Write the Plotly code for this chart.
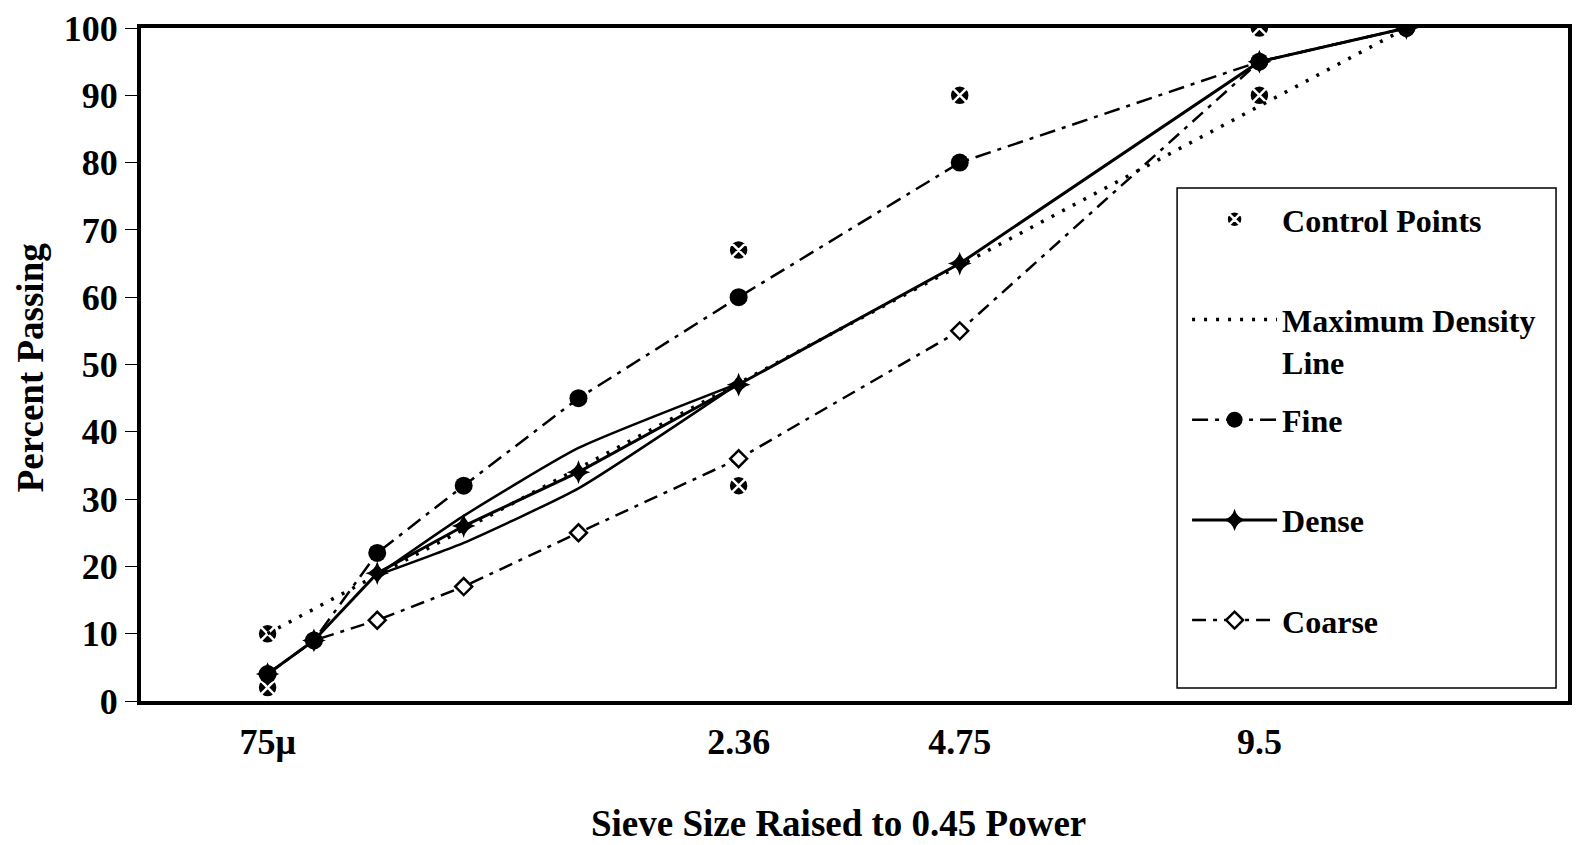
import plotly.graph_objects as go

# ---- data ----
sieve_mm = [0.075, 0.15, 0.3, 0.6, 1.18, 2.36, 4.75, 9.5, 12.5]
fine = [4, 9, 22, 32, 45, 60, 80, 95, 100]
dense = [4, 9, 19, 26, 34, 47, 65, 95, 100]
coarse = [4, 9, 12, 17, 25, 36, 55, 95, 100]
max_density = [10, 13.7, 18.7, 25.5, 34.6, 47.2, 64.7, 88.4, 100]

control_sieves = [0.075, 0.075, 2.36, 2.36, 4.75, 9.5, 9.5, 12.5]
control_vals = [2, 10, 32, 67, 90, 90, 100, 100]

rz_sieves = [0.3, 0.6, 1.18, 2.36]
rz_upper = [18.7, 27.5, 37.6, 47.2]
rz_lower = [18.7, 23.5, 31.6, 47.2]

tick_sieves = [0.075, 2.36, 4.75, 9.5]
tick_labels = ["75\u03bc", "2.36", "4.75", "9.5"]
y_ticks = [0, 10, 20, 30, 40, 50, 60, 70, 80, 90, 100]

P = 0.45
def px(vals):
    return [v ** P for v in vals]

FONT = "Liberation Serif"
fig = go.Figure()

# restricted zone
for rz in (rz_upper, rz_lower):
    fig.add_trace(go.Scatter(x=px(rz_sieves), y=rz, mode="lines",
                             line=dict(color="black", width=2.5, shape="spline", smoothing=0.5),
                             showlegend=False, hoverinfo="skip"))

fig.add_trace(go.Scatter(x=px(control_sieves), y=control_vals, mode="markers",
                         name="Control Points<br>\u00a0", legendgroup="a", legendrank=1,
                         marker=dict(symbol="circle-x", size=20, color="black",
                                     line=dict(color="white", width=2.5))))
fig.add_trace(go.Scatter(x=px(sieve_mm), y=max_density, mode="lines",
                         name="Maximum Density<br>Line", legendgroup="b", legendrank=2,
                         line=dict(color="black", width=3.5, dash="3px,9px")))
fig.add_trace(go.Scatter(x=px(sieve_mm), y=dense, mode="lines+markers",
                         name="Dense<br>\u00a0", legendgroup="d", legendrank=4,
                         line=dict(color="black", width=3),
                         marker=dict(symbol="star-diamond", size=17, color="black")))
fig.add_trace(go.Scatter(x=px(sieve_mm), y=coarse, mode="lines+markers",
                         name="Coarse<br>\u00a0", legendgroup="e", legendrank=5,
                         line=dict(color="black", width=2.5, dash="14px,7px,4px,7px"),
                         marker=dict(symbol="diamond", size=13, color="white",
                                     line=dict(color="black", width=2.5))))
fig.add_trace(go.Scatter(x=px(sieve_mm), y=fine, mode="lines+markers",
                         name="Fine<br>\u00a0", legendgroup="c", legendrank=3,
                         line=dict(color="black", width=2.5, dash="16px,7px,4px,7px"),
                         marker=dict(symbol="circle", size=18, color="black")))

W, H = 1577, 845
L, R, T, B = 141, 5, 28, 144
pw, ph = W - L - R, H - T - B

def pxx(p):
    return (p - L) / pw
def pxy(p):
    return (H - B - p) / ph

fig.update_layout(
    width=W, height=H,
    margin=dict(l=L, r=R, t=T, b=B),
    paper_bgcolor="white", plot_bgcolor="white",
    font=dict(family=FONT, color="black", size=32, weight="bold"),
    showlegend=True,
    legend=dict(x=pxx(1190), y=pxy(192), xanchor="left", yanchor="top",
                bgcolor="rgba(0,0,0,0)", borderwidth=0,
                font=dict(family=FONT, size=32, color="black", weight="bold"),
                itemwidth=85, valign="top", tracegroupgap=14, traceorder="grouped",
                itemclick=False),
    xaxis=dict(range=[0, 3.514], tickvals=px(tick_sieves), ticktext=tick_labels,
               showgrid=False, zeroline=False, showline=True, linecolor="black",
               linewidth=4, mirror=True, ticks="", ticklabelstandoff=6,
               tickfont=dict(family=FONT, size=36, weight="bold")),
    yaxis=dict(range=[0, 100], tickvals=y_ticks, showgrid=False, zeroline=False,
               showline=True, linecolor="black", linewidth=4, mirror=True,
               ticks="outside", ticklen=12, tickwidth=1, tickcolor="black",
               ticklabelstandoff=0,
               tickfont=dict(family=FONT, size=36, weight="bold")),
    shapes=[dict(type="rect", xref="paper", yref="paper",
                 x0=pxx(1180), x1=pxx(1560), y0=pxy(688), y1=pxy(188),
                 line=dict(color="black", width=1.5), fillcolor="rgba(0,0,0,0)",
                 layer="below")],
    annotations=[
        dict(text="Sieve Size Raised to 0.45 Power", xref="paper", yref="paper",
             x=pxx(840), y=pxy(823), xanchor="center", yanchor="middle",
             showarrow=False, font=dict(family=FONT, size=37, weight="bold")),
        dict(text="Percent Passing", xref="paper", yref="paper",
             x=pxx(30), y=pxy(367), xanchor="center", yanchor="middle", textangle=-90,
             showarrow=False, font=dict(family=FONT, size=37, weight="bold")),
    ],
)

fig.write_html("out.html")
